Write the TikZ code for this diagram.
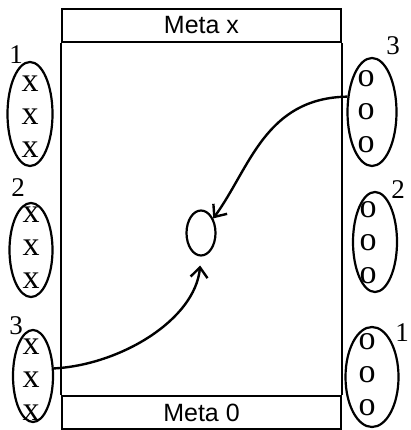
\documentclass[tikz,border=0pt]{standalone}
\usepackage{fontspec}
\setmainfont{Liberation Serif}
\newfontfamily\metafont{Liberation Sans}
\usetikzlibrary{shapes.geometric, arrows.meta, positioning}

\begin{document}
\begin{tikzpicture}[
    x=1pt, y=-1pt,
    band/.style={rectangle, draw=black, line width=2.2pt, minimum width=279pt, minimum height=33pt, inner sep=0pt, font=\metafont\fontsize{25}{25}\selectfont},
    group/.style={ellipse, draw=black, line width=2.2pt, minimum width=45pt, minimum height=104pt, inner sep=0pt},
    marks/.style={align=center, inner sep=0pt, font=\fontsize{34}{33}\selectfont},
    num/.style={inner sep=0pt, font=\fontsize{27}{27}\selectfont},
    arrow/.style={line width=2.4pt, -{Straight Barb[length=10pt, width=17pt]}},
]
    \useasboundingbox (0,0) rectangle (410,430);

    % bands and field
    \node (metax) [band] at (201.5,25.5) {Meta x};
    \node (meta0) [band] at (201.5,412.5) {Meta 0};
    \draw [line width=2.2pt] (metax.south west) -- (meta0.north west);
    \draw [line width=2.2pt] (metax.south east) -- (meta0.north east);

    % left groups
    \node (l1) [group] at (30,114) {};
    \node (l2) [group, minimum width=43pt, minimum height=94pt] at (31,250) {};
    \node (l3) [group, minimum width=40pt, minimum height=92pt] at (33,376) {};
    \node (l1x) [marks] at (30,117) {x\\x\\x};
    \node (l2x) [marks] at (31,248) {x\\x\\x};
    \node (l3x) [marks] at (31,380) {x\\x\\x};
    \node (l1n) [num] at (16,55) {1};
    \node (l2n) [num] at (18,188) {2};
    \node (l3n) [num] at (16,326) {3};

    % right groups
    \node (r3) [group, minimum width=49pt, minimum height=108pt] at (372,112) {};
    \node (r2) [group, minimum width=44pt, minimum height=100pt] at (375,242) {};
    \node (r1) [group, minimum width=53pt, minimum height=100pt] at (372,377) {};
    \node (r3o) [marks] at (366,112) {o\\o\\o};
    \node (r2o) [marks] at (368,243) {o\\o\\o};
    \node (r1o) [marks] at (367,375) {o\\o\\o};
    \node (r3n) [num] at (393,46) {3};
    \node (r2n) [num] at (398,190) {2};
    \node (r1n) [num] at (402,333) {1};

    % target
    \node (target) [ellipse, draw=black, line width=2.2pt, minimum width=29pt, minimum height=45pt, inner sep=0pt] at (201,233) {};

    \draw [arrow] (r3.148) .. controls (265,98) and (250,168) .. (target.50);
    \draw [arrow, shorten >=9pt] (l3.20) .. controls (120,365) and (195,320) .. (target.south);

\end{tikzpicture}
\end{document}
